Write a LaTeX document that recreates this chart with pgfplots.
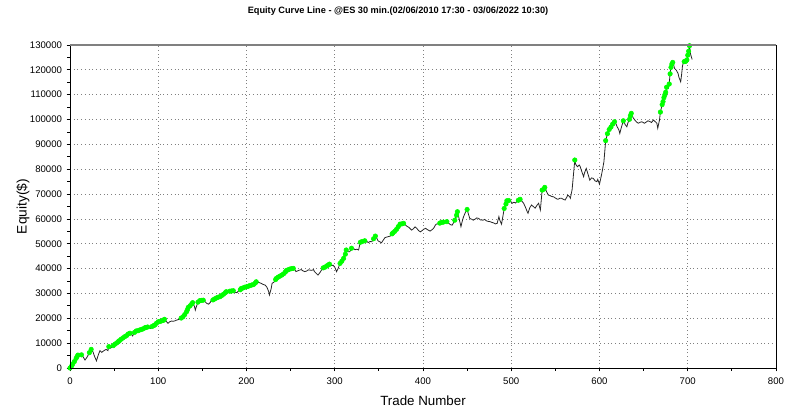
\documentclass[border=0pt]{standalone}
\usepackage{fontspec}
\setmainfont{Liberation Sans}
\usepackage{pgfplots}
\usepackage{pgfplotstable}
\pgfplotsset{compat=1.18}
\definecolor{hi}{RGB}{0,255,0}
\definecolor{grd}{RGB}{128,128,128}
\pgfplotstableread{
t e h
0 0 1
2 900 1
3 1600 1
5 2600 1
7 3900 1
8 4600 1
9 5200 1
11 5100 0
13 5300 1
15 4400 0
17 3200 0
19 4200 0
20 4800 0
22 6200 1
24 7500 1
26 6500 0
28 4500 0
30 2900 0
32 5200 0
34 7000 0
36 6300 0
37 6600 0
39 7100 0
41 7500 0
43 7000 0
44 8600 1
46 8000 0
47 8300 0
49 9000 1
51 9600 1
53 10100 1
55 10700 1
56 11000 1
58 11600 1
60 12100 1
62 12600 1
64 13000 1
66 13700 1
68 14000 1
69 13900 0
71 12900 0
73 14300 1
75 14900 1
77 15000 1
79 15300 1
81 15500 1
83 15800 1
85 16200 1
86 16300 1
88 16500 1
90 16200 0
91 15900 0
93 16700 1
95 17100 1
96 17300 1
98 18000 1
100 18600 1
102 18700 1
104 19000 1
106 19200 1
107 19600 1
109 18800 0
111 18000 0
113 18600 0
115 18900 0
117 18800 0
119 19000 0
121 19300 0
123 19500 0
124 19600 0
126 20100 1
128 20600 1
130 21500 1
132 22600 1
133 23400 1
134 24400 1
136 25000 1
138 25800 1
139 26300 1
141 24800 0
142 23300 0
143 24500 0
145 26500 1
147 27100 1
149 27200 1
151 27300 1
153 26700 0
155 26000 0
157 25700 0
159 26400 0
160 27200 0
162 27400 1
164 27800 1
166 28200 1
168 28500 1
170 28700 1
172 29200 1
174 29700 1
176 30300 1
177 30700 1
179 30400 0
181 30900 1
183 31000 1
185 31100 1
187 30500 0
189 30300 0
191 31000 0
193 31500 1
194 32000 1
196 32200 1
198 32500 1
200 32700 1
202 32900 1
204 33200 1
206 33400 1
208 33600 1
210 34200 1
211 34700 1
213 34500 0
215 34300 0
217 34000 0
219 33600 0
221 33400 0
223 32600 0
225 30900 0
226 29400 0
228 32000 0
229 34100 0
231 34500 0
233 35600 1
234 36100 1
236 36600 1
238 37000 1
240 37400 1
242 37900 1
244 38600 1
245 39200 1
247 39500 1
249 39800 1
251 40000 1
253 40100 1
255 39500 0
256 38800 0
258 39100 0
260 39400 0
262 39600 0
264 39100 0
266 38800 0
268 39000 0
270 39500 0
272 39400 0
274 39300 0
276 39600 0
277 38800 0
279 38100 0
281 37400 0
283 38300 0
285 39400 0
287 40300 1
289 40600 1
291 41100 1
293 41500 1
294 41800 1
296 41200 0
298 41400 0
300 40600 0
302 38800 0
304 40200 0
306 42100 1
308 43000 1
310 44100 1
312 45800 1
313 47500 1
315 46800 0
317 46800 0
319 48200 1
321 48200 0
323 47600 0
325 47800 0
327 47500 0
329 50600 1
331 50900 1
334 51200 1
336 51000 0
338 50500 0
340 50900 0
342 50800 0
344 52000 1
346 53100 1
348 52000 0
349 51200 0
351 50800 0
353 50400 0
355 51500 0
357 52500 0
359 52700 0
361 52900 0
363 53100 0
365 54000 1
366 54400 1
368 55000 1
370 55800 1
372 56900 1
374 57900 1
376 58000 1
378 58200 1
380 57600 0
382 57000 0
384 56600 0
386 55900 0
387 55500 0
389 56000 0
391 56800 0
393 56200 0
395 55300 0
397 54800 0
399 55300 0
401 55900 0
403 56200 0
405 55700 0
408 55100 0
410 55600 0
412 56200 0
414 57500 0
415 57900 0
417 58000 0
419 58300 1
421 58600 1
423 58700 1
425 58600 0
427 58900 1
429 58300 0
431 57700 0
433 57500 0
435 58700 0
436 59500 1
438 61500 1
439 62900 1
441 60000 0
443 56900 0
445 59800 0
446 60900 0
448 62600 0
450 63800 1
451 62500 0
453 60200 0
455 59900 0
457 59500 0
459 59900 0
461 60400 0
463 60200 0
465 59600 0
468 59500 0
470 59800 0
472 59200 0
474 59000 0
476 58900 0
478 58600 0
480 58400 0
482 58000 0
484 58200 0
486 60900 0
487 59500 0
489 57900 0
491 62000 0
492 64200 1
494 66000 1
495 67300 1
497 67400 1
499 67300 0
501 66300 0
503 66700 0
505 66400 0
506 66900 0
508 67500 1
510 67900 1
512 67200 0
514 66300 0
516 64800 0
518 63000 0
519 62300 0
521 64500 0
523 65600 0
525 65000 0
527 64300 0
529 65400 0
531 66300 0
533 63600 0
534 67500 0
535 71600 1
537 72000 1
538 72700 1
540 71000 0
542 69600 0
544 69400 0
546 69000 0
548 68900 0
550 68400 0
552 68000 0
553 67900 0
555 68300 0
557 68300 0
559 67900 0
561 67600 0
563 68800 0
564 69600 0
566 69000 0
567 68300 0
569 71900 0
572 83700 1
573 82000 0
575 81000 0
577 81700 0
578 81200 0
580 79000 0
582 77000 0
583 78500 0
585 80300 0
587 78000 0
589 75600 0
591 76500 0
593 76300 0
595 75300 0
597 75000 0
598 75900 0
600 74000 0
601 75600 0
603 79000 0
605 83000 0
607 91500 1
609 94300 1
611 96000 1
613 97000 1
615 98200 1
617 99100 1
619 98000 0
620 97100 0
622 95800 0
623 94400 0
624 95800 0
625 97100 0
627 99500 1
628 99000 0
629 98000 0
631 97100 0
632 98500 0
634 100100 1
635 101500 1
636 102500 1
637 101800 0
638 100800 0
640 99800 0
642 99000 0
644 98500 0
646 98900 0
648 99100 0
650 98700 0
651 98500 0
653 99000 0
655 99500 0
657 99200 0
659 98800 0
661 99800 0
663 99200 0
665 98500 0
666 96500 0
668 99800 0
669 103000 1
671 106000 1
672 107200 1
673 108800 1
674 109900 1
675 111000 1
676 113000 1
678 112500 0
679 114300 1
680 118400 1
681 121000 1
682 122300 1
683 123000 1
684 122000 0
685 120600 0
687 119900 0
688 119200 0
689 118600 0
690 117000 0
692 115200 0
693 118000 0
694 121500 0
695 122800 0
696 123300 1
697 123400 1
698 123500 1
699 124000 1
700 125900 1
701 127500 1
702 129700 1
703 126600 0
704 125300 0
705 124200 0
}\eqdata
\begin{document}
\begin{tikzpicture}
\useasboundingbox (-52.5pt,-36.75pt) rectangle (547.5pt,276pt);
\begin{axis}[
  at={(0,0)}, anchor=south west,
  scale only axis, width=529.5pt, height=242.25pt,
  xmin=0, xmax=800, ymin=0, ymax=130000,
  xtick={0,100,...,800}, ytick={0,10000,...,130000},
  minor x tick num=1, minor y tick num=1,
  xtick pos=lower, ytick pos=left,
  tick align=outside,
  major tick length=2.5pt, minor tick length=2pt,
  tick style={black, line width=0.6pt},
  scaled y ticks=false, scaled x ticks=false,
  y tick label style={/pgf/number format/fixed, /pgf/number format/1000 sep={}},
  tick label style={font=\fontsize{7.2}{8}\selectfont},
  x tick label style={yshift=-1.5pt},
  /pgf/number format/assume math mode=true,
  axis line style={draw=none},
  grid=major,
  major grid style={grd, line width=0.6pt, dash pattern=on 0.6pt off 2.2pt},
  clip=false,
]
\addplot[black!85, line width=0.6pt] table[x=t, y=e] {\eqdata};
\addplot[only marks, mark=*, mark size=1.7pt, mark options={draw=hi, fill=hi},
  restrict expr to domain={\thisrow{h}}{0.5:1.5}] table[x=t, y=e] {\eqdata};
\end{axis}
\draw[black, line width=0.7pt] (0,242.25pt) -- (0,0) -- (529.5pt,0) -- (529.5pt,242.25pt);
\draw[grd, line width=1.5pt] (0,242.25pt) -- (529.5pt,242.25pt);
\node[font=\fontsize{6.9}{8}\selectfont\bfseries] at (246pt,267.75pt) {Equity Curve Line - @ES 30 min.(02/06/2010 17:30 - 03/06/2022 10:30)};
\node[font=\fontsize{10}{12}\selectfont] at (264.75pt,-24.75pt) {Trade Number};
\node[font=\fontsize{10.3}{12}\selectfont, rotate=90] at (-35.25pt,121.1pt) {Equity(\$)};
\end{tikzpicture}
\end{document}
